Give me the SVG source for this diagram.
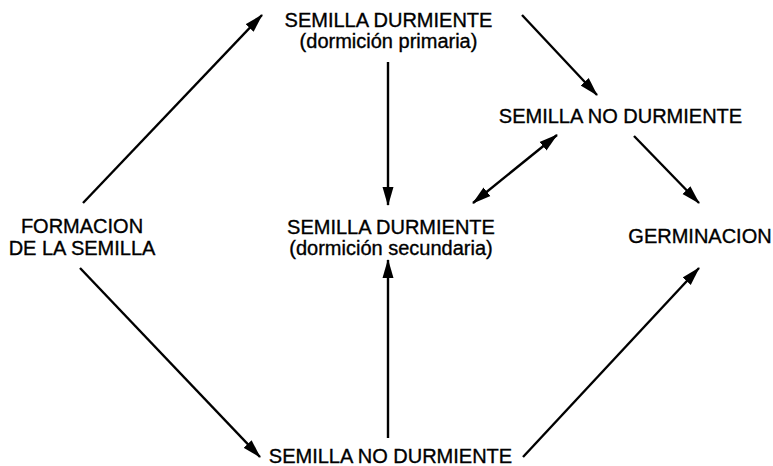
<svg xmlns="http://www.w3.org/2000/svg" width="773" height="466" viewBox="0 0 773 466">
<style>
text{font-family:"Liberation Sans",Arial,sans-serif;font-size:20px;fill:#000;stroke:#000;stroke-width:0.35;text-anchor:middle}
.c line{stroke:#000;stroke-width:2.4;fill:none;marker-end:url(#ah)}
.c line.d{marker-start:url(#ah)}
</style>
<defs>
<marker id="ah" markerUnits="userSpaceOnUse" markerWidth="19" markerHeight="12" refX="18" refY="6" orient="auto-start-reverse" viewBox="0 0 19 12">
<path d="M0,0.5 L19,6 L0,11.5 z" fill="#000"/>
</marker>
</defs>
<rect width="773" height="466" fill="#fff"/>
<g id="formacion"><text x="82" y="233">FORMACION</text><text x="82" y="255">DE LA SEMILLA</text></g>
<g id="durmiente-primaria"><text x="388.5" y="27">SEMILLA DURMIENTE</text><text x="388.5" y="48">(dormición primaria)</text></g>
<g id="no-durmiente-arriba"><text x="620.5" y="123">SEMILLA NO DURMIENTE</text></g>
<g id="durmiente-secundaria"><text x="391" y="234">SEMILLA DURMIENTE</text><text x="391" y="255">(dormición secundaria)</text></g>
<g id="germinacion"><text x="700" y="243">GERMINACION</text></g>
<g id="no-durmiente-abajo"><text x="390.5" y="463">SEMILLA NO DURMIENTE</text></g>
<g id="connectors" class="c">
<line x1="83" y1="203" x2="262" y2="15"/>
<line x1="522" y1="15" x2="597" y2="95"/>
<line x1="388" y1="62" x2="388" y2="205"/>
<line class="d" x1="473" y1="203" x2="557" y2="135"/>
<line x1="634" y1="136" x2="699" y2="203"/>
<line x1="80" y1="268" x2="260" y2="457"/>
<line x1="388" y1="438" x2="388" y2="260"/>
<line x1="523" y1="457" x2="699" y2="268"/>
</g>
</svg>
